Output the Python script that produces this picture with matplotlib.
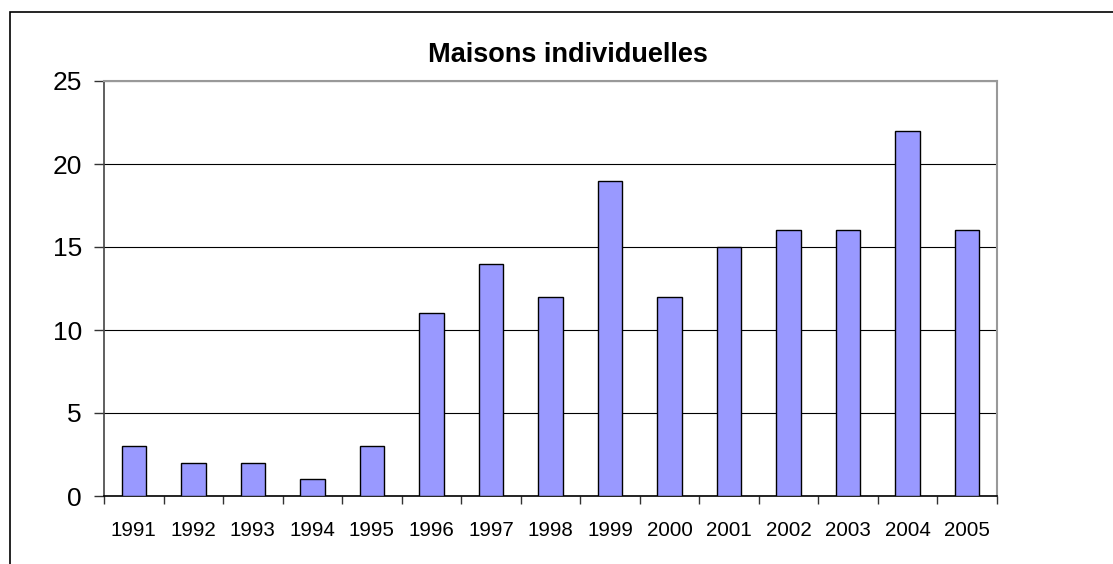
import matplotlib
matplotlib.use("Agg")
import matplotlib.pyplot as plt
import numpy as np
from matplotlib.patches import Rectangle

years = ["1991", "1992", "1993", "1994", "1995", "1996", "1997", "1998",
         "1999", "2000", "2001", "2002", "2003", "2004", "2005"]
values = [3, 2, 2, 1, 3, 11, 14, 12, 19, 12, 15, 16, 16, 22, 16]
title = "Maisons individuelles"
yticks = [0, 5, 10, 15, 20, 25]

plt.rcParams['font.family'] = ['Liberation Sans', 'DejaVu Sans']

W, H = 1113, 564
fig = plt.figure(figsize=(W / 100, H / 100), dpi=100)
fig.patch.set_facecolor("white")

# outer chart border (extends past right/bottom edges)
fig.add_artist(Rectangle((9.5 / W, -0.1), 1.2, 1 - 12 / H + 0.1,
                         transform=fig.transFigure, fill=False,
                         edgecolor="#000000", linewidth=1.2))

left, right, top, bottom = 104, 997, 81, 496
ax = fig.add_axes([left / W, 1 - bottom / H, (right - left) / W, (bottom - top) / H])

x = np.arange(len(years))
ax.bar(x, values, width=0.41, color="#9999FF", edgecolor="black",
       linewidth=1.0, zorder=3)

ax.set_xlim(-0.5, len(years) - 0.5)
ax.set_ylim(0, 25)
ax.set_yticks(yticks)
ax.set_yticklabels([str(v) for v in yticks], fontsize=19)
ax.yaxis.grid(True, color="black", linewidth=0.8, zorder=0)
ax.set_axisbelow(True)

ax.set_xticks(x)
ax.set_xticklabels(years, fontsize=14.8)
ax.tick_params(axis="x", which="major", length=0, pad=18)
ax.set_xticks(np.arange(-0.5, len(years)), minor=True)
ax.tick_params(axis="x", which="minor", length=6, width=1.0, color="#333333")
ax.tick_params(axis="y", length=7, width=1.0, color="#333333", pad=9)

for s in ["top", "right"]:
    ax.spines[s].set_color("#999999")
    ax.spines[s].set_linewidth(1.5)
ax.spines["left"].set_color("#444444")
ax.spines["left"].set_linewidth(1.2)
ax.spines["bottom"].set_color("#000000")
ax.spines["bottom"].set_linewidth(1.2)

fig.text(568 / W, 1 - 55 / H, title, ha="center", va="center",
         fontsize=19.5, fontweight="bold")

fig.savefig("out.png", dpi=100)
